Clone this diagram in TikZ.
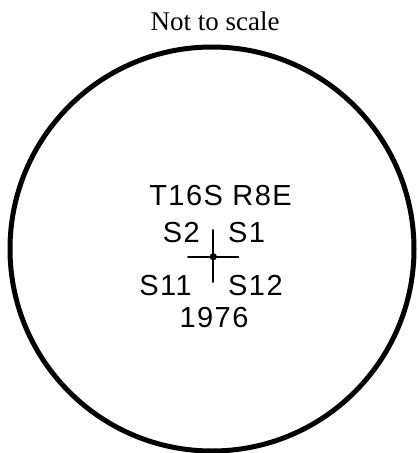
\documentclass[tikz,border=0pt]{standalone}
\usepackage{fontspec}
\setmainfont{Liberation Serif}
\newfontfamily\cadfont[LetterSpace=5]{Liberation Sans}
\begin{document}
\begin{tikzpicture}[x=1pt,y=-1pt,line join=round,line cap=round,
    lbl/.style={font=\cadfont\fontsize{29}{32}\selectfont,anchor=base,inner sep=0pt}]
    \useasboundingbox (0,0) rectangle (418,453);
    \def\cx{212} \def\cy{249} \def\r{202}
    \coordinate (o) at (\cx,\cy);
    \draw[line width=5pt] (o) circle[radius=\r pt];
    \node[font=\rmfamily\fontsize{27}{30}\selectfont,anchor=base,inner sep=0pt] (title) at (215,30) {Not to scale};
    % section corner
    \coordinate (p) at (213.3,256.7);
    \coordinate (w) at (188,256.7); \coordinate (e) at (238.5,256.7);
    \coordinate (n) at (213.3,230); \coordinate (s) at (213.3,282);
    \draw[line width=1.8pt] (w)--(e) (n)--(s);
    \fill (p) circle(3.6pt);
    \node[lbl] (twp) at (220.5,205) {T16S R8E};
    \node[lbl,anchor=base east] (sa) at (200,242) {S2};
    \node[lbl,anchor=base west] (sb) at (228,242) {S1};
    \node[lbl,anchor=base east] (sc) at (192,295) {S11};
    \node[lbl,anchor=base west] (sd) at (228,295) {S12};
    \node[lbl] (yr) at (214,327) {1976};
\end{tikzpicture}
\end{document}
